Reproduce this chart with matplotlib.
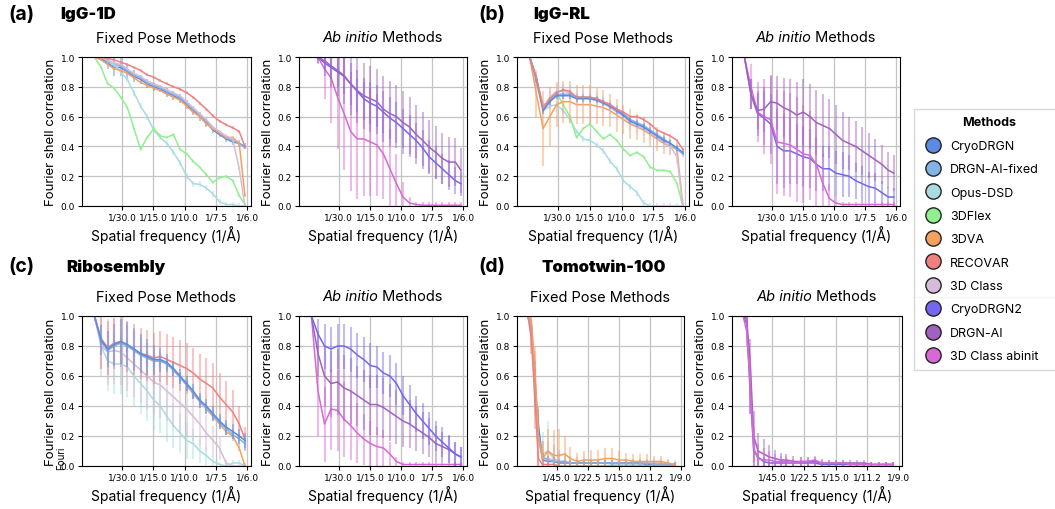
import matplotlib
matplotlib.use('Agg')
from matplotlib import pyplot as plt
from matplotlib.lines import Line2D

W, H = 1055, 510

METHODS = ['CryoDRGN', 'DRGN-AI-fixed', 'Opus-DSD', '3DFlex', '3DVA', 'RECOVAR',
           '3D Class', 'CryoDRGN2', 'DRGN-AI', '3D Class abinit']
COLOURS = ['#5b8be0', '#84b3e7', '#a8dce2', '#90f090', '#f5a05e', '#f08080',
           '#d6bcd8', '#7466ee', '#9f62bf', '#d868d4']

# spatial frequency grids (1/A)
FREQ = [0.004, 0.011, 0.018, 0.025, 0.032, 0.039, 0.046, 0.053, 0.060, 0.067, 0.074, 0.081,
        0.088, 0.095, 0.102, 0.109, 0.116, 0.123, 0.130, 0.137, 0.144, 0.151, 0.158, 0.164]
TOMO_FREQ = [0.0015, 0.004, 0.0065, 0.009, 0.012, 0.016, 0.020, 0.024, 0.028, 0.032, 0.037, 0.042,
             0.047, 0.052, 0.057, 0.062, 0.067, 0.072, 0.077, 0.082, 0.087, 0.092, 0.097, 0.102, 0.107]
RES_TICKS = [30, 15, 10, 7.5, 6]
TOMO_RES_TICKS = [45, 22.5, 15, 11.25, 9]

# (a) IgG-1D
a_fix_cryodrgn = [1.0, 0.99, 0.96, 0.93, 0.93, 0.90, 0.87, 0.85, 0.82, 0.80, 0.785, 0.76, 0.74, 0.72, 0.68, 0.64, 0.60, 0.56, 0.51, 0.48, 0.45, 0.43, 0.42, 0.40]
a_fix_cryodrgn_err = [0.0, 0.01, 0.04, 0.06, 0.06, 0.05, 0.04, 0.03, 0.03, 0.03, 0.02, 0.03, 0.03, 0.03, 0.03, 0.03, 0.03, 0.03, 0.02, 0.02, 0.02, 0.02, 0.02, 0.02]
a_fix_drgnai = [1.0, 1.0, 0.97, 0.95, 0.94, 0.91, 0.88, 0.86, 0.83, 0.81, 0.795, 0.77, 0.75, 0.73, 0.69, 0.65, 0.61, 0.57, 0.52, 0.49, 0.46, 0.44, 0.42, 0.39]
a_fix_opus = [1.0, 1.0, 0.98, 0.95, 0.90, 0.85, 0.76, 0.67, 0.60, 0.51, 0.46, 0.42, 0.36, 0.29, 0.20, 0.15, 0.145, 0.12, 0.08, 0.03, 0.01, 0.01, 0.0, 0.0]
a_fix_flex = [1.0, 0.93, 0.82, 0.79, 0.73, 0.66, 0.52, 0.38, 0.46, 0.52, 0.47, 0.46, 0.48, 0.38, 0.35, 0.30, 0.26, 0.21, 0.16, 0.19, 0.20, 0.17, 0.07, 0.01]
a_fix_3dva = [1.0, 0.98, 0.95, 0.92, 0.91, 0.89, 0.86, 0.83, 0.81, 0.79, 0.775, 0.75, 0.73, 0.71, 0.67, 0.63, 0.60, 0.55, 0.52, 0.49, 0.46, 0.46, 0.42, 0.07]
a_fix_recovar = [1.0, 1.0, 0.99, 0.98, 0.965, 0.95, 0.93, 0.91, 0.88, 0.865, 0.84, 0.82, 0.80, 0.785, 0.76, 0.73, 0.69, 0.65, 0.605, 0.57, 0.545, 0.525, 0.50, 0.40]
a_fix_3dclass = [1.0, 1.0, 0.98, 0.96, 0.95, 0.92, 0.89, 0.87, 0.84, 0.82, 0.805, 0.78, 0.76, 0.74, 0.70, 0.66, 0.62, 0.58, 0.53, 0.50, 0.47, 0.45, 0.25, 0.0]

a_ab_cryodrgn2 = [1.0, 1.0, 0.96, 0.93, 0.90, 0.87, 0.82, 0.77, 0.72, 0.69, 0.67, 0.63, 0.59, 0.56, 0.52, 0.48, 0.44, 0.39, 0.33, 0.29, 0.25, 0.21, 0.17, 0.15]
a_ab_cryodrgn2_err = [0.0, 0.02, 0.05, 0.08, 0.1, 0.12, 0.14, 0.14, 0.14, 0.14, 0.14, 0.14, 0.14, 0.14, 0.13, 0.13, 0.12, 0.12, 0.11, 0.11, 0.1, 0.1, 0.09, 0.08]
a_ab_drgnai = [1.0, 1.0, 0.975, 0.94, 0.91, 0.875, 0.82, 0.775, 0.74, 0.72, 0.70, 0.65, 0.62, 0.60, 0.56, 0.53, 0.48, 0.44, 0.395, 0.36, 0.32, 0.295, 0.295, 0.24]
a_ab_drgnai_err = [0.0, 0.04, 0.1, 0.14, 0.17, 0.19, 0.21, 0.22, 0.22, 0.22, 0.22, 0.22, 0.22, 0.21, 0.21, 0.2, 0.2, 0.19, 0.18, 0.18, 0.17, 0.17, 0.16, 0.15]
a_ab_3dclass = [1.0, 1.0, 0.92, 0.86, 0.73, 0.62, 0.50, 0.45, 0.45, 0.43, 0.41, 0.35, 0.25, 0.15, 0.06, 0.02, 0.01, 0.005, 0.005, 0.005, 0.005, 0.005, 0.005, 0.005]
a_ab_3dclass_err = [0.0, 0.05, 0.2, 0.3, 0.35, 0.38, 0.4, 0.4, 0.38, 0.36, 0.34, 0.3, 0.27, 0.2, 0.1, 0.04, 0.02, 0.02, 0.02, 0.02, 0.02, 0.02, 0.02, 0.02]

# (b) IgG-RL
b_fix_cryodrgn = [1.0, 0.85, 0.64, 0.70, 0.74, 0.74, 0.74, 0.72, 0.72, 0.72, 0.71, 0.69, 0.67, 0.64, 0.61, 0.57, 0.55, 0.53, 0.50, 0.47, 0.44, 0.42, 0.39, 0.36]
b_fix_drgnai = [1.0, 0.86, 0.65, 0.71, 0.75, 0.75, 0.75, 0.73, 0.73, 0.73, 0.72, 0.70, 0.68, 0.65, 0.62, 0.58, 0.56, 0.54, 0.51, 0.48, 0.45, 0.42, 0.38, 0.35]
b_fix_opus = [1.0, 0.82, 0.64, 0.67, 0.68, 0.64, 0.58, 0.50, 0.45, 0.44, 0.41, 0.37, 0.30, 0.25, 0.17, 0.13, 0.09, 0.02, 0.0, 0.0, 0.0, 0.0, 0.0, 0.0]
b_fix_flex = [1.0, 0.85, 0.68, 0.70, 0.76, 0.68, 0.60, 0.46, 0.52, 0.55, 0.50, 0.45, 0.48, 0.44, 0.38, 0.34, 0.36, 0.33, 0.26, 0.24, 0.24, 0.23, 0.15, 0.0]
b_fix_3dva = [1.0, 0.75, 0.52, 0.60, 0.68, 0.70, 0.70, 0.68, 0.68, 0.68, 0.67, 0.66, 0.64, 0.61, 0.58, 0.55, 0.53, 0.51, 0.48, 0.45, 0.42, 0.40, 0.38, 0.0]
b_fix_3dva_err = [0.0, 0.15, 0.25, 0.2, 0.15, 0.14, 0.14, 0.13, 0.13, 0.13, 0.12, 0.12, 0.11, 0.11, 0.1, 0.1, 0.09, 0.09, 0.08, 0.08, 0.07, 0.06, 0.05, 0.0]
b_fix_recovar = [1.0, 0.86, 0.66, 0.72, 0.76, 0.78, 0.77, 0.73, 0.73, 0.73, 0.72, 0.70, 0.68, 0.65, 0.63, 0.60, 0.60, 0.58, 0.55, 0.51, 0.49, 0.47, 0.44, 0.38]
b_fix_3dclass = [1.0, 0.86, 0.66, 0.73, 0.77, 0.77, 0.76, 0.73, 0.73, 0.72, 0.71, 0.69, 0.66, 0.63, 0.60, 0.56, 0.54, 0.52, 0.49, 0.46, 0.43, 0.40, 0.33, 0.0]

b_ab_cryodrgn2 = [1.0, 0.75, 0.62, 0.59, 0.55, 0.40, 0.37, 0.37, 0.35, 0.33, 0.32, 0.28, 0.25, 0.25, 0.22, 0.21, 0.20, 0.17, 0.15, 0.13, 0.12, 0.09, 0.06, 0.06]
b_ab_cryodrgn2_err = [0.0, 0.1, 0.15, 0.18, 0.2, 0.25, 0.25, 0.22, 0.2, 0.2, 0.2, 0.18, 0.15, 0.15, 0.15, 0.15, 0.14, 0.12, 0.12, 0.1, 0.1, 0.08, 0.07, 0.06]
b_ab_drgnai = [1.0, 0.75, 0.64, 0.65, 0.70, 0.69, 0.66, 0.64, 0.61, 0.63, 0.60, 0.56, 0.54, 0.52, 0.48, 0.44, 0.42, 0.40, 0.37, 0.34, 0.31, 0.28, 0.24, 0.22]
b_ab_drgnai_err = [0.0, 0.1, 0.12, 0.15, 0.17, 0.18, 0.2, 0.21, 0.22, 0.22, 0.22, 0.22, 0.21, 0.2, 0.2, 0.19, 0.18, 0.17, 0.16, 0.15, 0.14, 0.13, 0.12, 0.12]
b_ab_3dclass = [1.0, 0.80, 0.63, 0.60, 0.58, 0.43, 0.42, 0.41, 0.38, 0.35, 0.34, 0.28, 0.15, 0.05, 0.02, 0.01, 0.01, 0.01, 0.01, 0.01, 0.01, 0.01, 0.01, 0.01]
b_ab_3dclass_err = [0.0, 0.15, 0.2, 0.25, 0.3, 0.35, 0.35, 0.35, 0.35, 0.33, 0.3, 0.28, 0.2, 0.1, 0.05, 0.02, 0.02, 0.02, 0.02, 0.02, 0.02, 0.02, 0.02, 0.02]

# (c) Ribosembly
c_fix_cryodrgn = [1.0, 0.84, 0.78, 0.81, 0.83, 0.81, 0.78, 0.75, 0.73, 0.71, 0.71, 0.69, 0.65, 0.60, 0.55, 0.50, 0.44, 0.40, 0.35, 0.30, 0.26, 0.23, 0.20, 0.17]
c_fix_cryodrgn_err = [0.0, 0.1, 0.12, 0.14, 0.15, 0.15, 0.14, 0.13, 0.12, 0.1, 0.08, 0.06, 0.05, 0.05, 0.05, 0.05, 0.05, 0.05, 0.05, 0.05, 0.05, 0.05, 0.05, 0.05]
c_fix_drgnai = [1.0, 0.83, 0.77, 0.80, 0.82, 0.80, 0.77, 0.74, 0.72, 0.70, 0.70, 0.68, 0.64, 0.59, 0.54, 0.49, 0.43, 0.39, 0.34, 0.29, 0.25, 0.21, 0.18, 0.15]
c_fix_opus = [1.0, 0.80, 0.70, 0.68, 0.68, 0.66, 0.60, 0.55, 0.50, 0.44, 0.40, 0.33, 0.27, 0.22, 0.17, 0.15, 0.10, 0.07, 0.03, 0.01, 0.0, 0.02, 0.02, 0.0]
c_fix_opus_err = [0.0, 0.15, 0.2, 0.2, 0.2, 0.2, 0.2, 0.2, 0.2, 0.2, 0.18, 0.17, 0.15, 0.13, 0.12, 0.1, 0.08, 0.06, 0.04, 0.02, 0.02, 0.02, 0.02, 0.0]
c_fix_3dva = [1.0, 0.83, 0.78, 0.81, 0.82, 0.80, 0.77, 0.74, 0.72, 0.70, 0.70, 0.68, 0.64, 0.59, 0.54, 0.48, 0.43, 0.38, 0.33, 0.28, 0.23, 0.20, 0.12, 0.0]
c_fix_recovar = [1.0, 0.85, 0.79, 0.82, 0.83, 0.80, 0.78, 0.75, 0.74, 0.72, 0.73, 0.71, 0.69, 0.67, 0.65, 0.62, 0.58, 0.55, 0.52, 0.46, 0.41, 0.36, 0.28, 0.18]
c_fix_recovar_err = [0.0, 0.2, 0.18, 0.17, 0.17, 0.17, 0.17, 0.17, 0.17, 0.17, 0.17, 0.17, 0.17, 0.17, 0.17, 0.17, 0.17, 0.17, 0.17, 0.16, 0.16, 0.15, 0.12, 0.08]
c_fix_3dclass = [1.0, 0.80, 0.76, 0.77, 0.76, 0.72, 0.68, 0.64, 0.60, 0.56, 0.54, 0.50, 0.46, 0.42, 0.38, 0.33, 0.28, 0.22, 0.17, 0.12, 0.02, 0.0, 0.0, 0.0]
c_fix_3dclass_err = [0.0, 0.2, 0.22, 0.22, 0.22, 0.22, 0.22, 0.22, 0.22, 0.22, 0.22, 0.2, 0.2, 0.2, 0.18, 0.16, 0.14, 0.12, 0.1, 0.08, 0.02, 0.0, 0.0, 0.0]

c_ab_cryodrgn2 = [1.0, 0.88, 0.80, 0.78, 0.80, 0.80, 0.78, 0.74, 0.71, 0.67, 0.66, 0.62, 0.60, 0.55, 0.47, 0.41, 0.35, 0.30, 0.25, 0.20, 0.16, 0.12, 0.08, 0.06]
c_ab_cryodrgn2_err = [0.0, 0.1, 0.15, 0.15, 0.15, 0.15, 0.15, 0.15, 0.15, 0.15, 0.14, 0.14, 0.14, 0.14, 0.13, 0.13, 0.12, 0.12, 0.11, 0.1, 0.1, 0.09, 0.08, 0.07]
c_ab_drgnai = [1.0, 0.75, 0.60, 0.55, 0.56, 0.52, 0.50, 0.47, 0.44, 0.41, 0.41, 0.39, 0.36, 0.33, 0.30, 0.28, 0.25, 0.22, 0.19, 0.15, 0.13, 0.11, 0.08, 0.06]
c_ab_drgnai_err = [0.0, 0.15, 0.2, 0.22, 0.22, 0.22, 0.22, 0.2, 0.2, 0.2, 0.2, 0.2, 0.19, 0.18, 0.17, 0.16, 0.15, 0.14, 0.13, 0.12, 0.1, 0.09, 0.08, 0.07]
c_ab_3dclass = [1.0, 0.50, 0.28, 0.38, 0.37, 0.31, 0.27, 0.22, 0.18, 0.15, 0.13, 0.12, 0.08, 0.03, 0.01, 0.01, 0.01, 0.01, 0.01, 0.01, 0.01, 0.01, 0.01, 0.01]
c_ab_3dclass_err = [0.0, 0.3, 0.25, 0.27, 0.27, 0.25, 0.23, 0.2, 0.17, 0.15, 0.13, 0.12, 0.08, 0.03, 0.02, 0.02, 0.02, 0.02, 0.02, 0.02, 0.02, 0.02, 0.02, 0.02]

# (d) Tomotwin-100
d_fix_cryodrgn = [1.0, 0.92, 0.55, 0.28, 0.04, 0.03, 0.03, 0.02, 0.02, 0.02, 0.02, 0.02, 0.02, 0.02, 0.02, 0.02, 0.02, 0.02, 0.02, 0.02, 0.01, 0.01, 0.01, 0.01, 0.01]
d_fix_cryodrgn_err = [0.0, 0.05, 0.15, 0.1, 0.05, 0.04, 0.03, 0.02, 0.02, 0.02, 0.02, 0.02, 0.02, 0.02, 0.02, 0.02, 0.02, 0.02, 0.02, 0.02, 0.02, 0.02, 0.02, 0.02, 0.02]
d_fix_drgnai = [1.0, 0.93, 0.55, 0.20, 0.06, 0.04, 0.03, 0.03, 0.03, 0.02, 0.02, 0.02, 0.02, 0.02, 0.02, 0.02, 0.02, 0.02, 0.02, 0.02, 0.02, 0.01, 0.01, 0.01, 0.01]
d_fix_opus = [1.0, 0.95, 0.62, 0.25, 0.08, 0.10, 0.05, 0.03, 0.03, 0.02, 0.02, 0.02, 0.02, 0.02, 0.02, 0.01, 0.01, 0.01, 0.01, 0.01, 0.01, 0.01, 0.01, 0.01, 0.01]
d_fix_opus_err = [0.0, 0.05, 0.15, 0.15, 0.15, 0.2, 0.1, 0.06, 0.05, 0.04, 0.03, 0.03, 0.02, 0.02, 0.02, 0.02, 0.02, 0.02, 0.02, 0.02, 0.02, 0.02, 0.02, 0.02, 0.02]
d_fix_3dva = [1.0, 0.97, 0.65, 0.20, 0.05, 0.10, 0.07, 0.07, 0.08, 0.05, 0.03, 0.04, 0.04, 0.04, 0.05, 0.05, 0.04, 0.04, 0.03, 0.03, 0.03, 0.03, 0.03, 0.02, 0.01]
d_fix_3dva_err = [0.0, 0.05, 0.15, 0.2, 0.12, 0.15, 0.17, 0.18, 0.12, 0.08, 0.06, 0.06, 0.07, 0.07, 0.07, 0.07, 0.06, 0.05, 0.05, 0.05, 0.05, 0.04, 0.04, 0.03, 0.02]
d_fix_recovar = [1.0, 0.85, 0.45, 0.05, 0.01, 0.01, 0.01, 0.0, 0.0, 0.0, 0.0, 0.0, 0.0, 0.0, 0.0, 0.0, 0.0, 0.0, 0.0, 0.0, 0.0, 0.0, 0.0, 0.0, 0.0]
d_fix_recovar_err = [0.0, 0.1, 0.2, 0.05, 0.01, 0.01, 0.01, 0.01, 0.01, 0.01, 0.01, 0.01, 0.01, 0.01, 0.01, 0.01, 0.01, 0.01, 0.01, 0.01, 0.01, 0.01, 0.01, 0.01, 0.01]
d_fix_3dclass = [1.0, 0.90, 0.55, 0.18, 0.05, 0.05, 0.04, 0.03, 0.03, 0.02, 0.02, 0.02, 0.02, 0.02, 0.02, 0.02, 0.02, 0.02, 0.02, 0.02, 0.02, 0.02, 0.02, 0.01, 0.01]
d_fix_3dclass_err = [0.0, 0.1, 0.2, 0.2, 0.12, 0.12, 0.1, 0.08, 0.06, 0.05, 0.04, 0.03, 0.03, 0.03, 0.03, 0.03, 0.03, 0.03, 0.03, 0.03, 0.03, 0.03, 0.03, 0.03, 0.03]

d_ab_cryodrgn2 = [1.0, 0.95, 0.50, 0.10, 0.06, 0.03, 0.02, 0.02, 0.02, 0.02, 0.02, 0.02, 0.02, 0.02, 0.01, 0.01, 0.01, 0.01, 0.01, 0.01, 0.01, 0.01, 0.01, 0.01, 0.01]
d_ab_cryodrgn2_err = [0.0, 0.05, 0.15, 0.1, 0.05, 0.03, 0.02, 0.02, 0.02, 0.02, 0.02, 0.02, 0.02, 0.02, 0.02, 0.02, 0.02, 0.02, 0.02, 0.02, 0.02, 0.02, 0.02, 0.02, 0.02]
d_ab_drgnai = [1.0, 0.98, 0.70, 0.20, 0.10, 0.08, 0.06, 0.05, 0.04, 0.04, 0.03, 0.03, 0.03, 0.03, 0.02, 0.02, 0.02, 0.02, 0.02, 0.02, 0.02, 0.01, 0.01, 0.01, 0.01]
d_ab_drgnai_err = [0.0, 0.05, 0.15, 0.17, 0.12, 0.1, 0.08, 0.06, 0.05, 0.04, 0.04, 0.03, 0.03, 0.03, 0.03, 0.02, 0.02, 0.02, 0.02, 0.02, 0.02, 0.02, 0.02, 0.02, 0.02]
d_ab_3dclass = [1.0, 0.90, 0.55, 0.12, 0.05, 0.04, 0.04, 0.03, 0.03, 0.03, 0.02, 0.03, 0.03, 0.04, 0.02, 0.02, 0.02, 0.02, 0.01, 0.01, 0.01, 0.01, 0.01, 0.01, 0.01]
d_ab_3dclass_err = [0.0, 0.1, 0.2, 0.15, 0.1, 0.08, 0.06, 0.05, 0.04, 0.04, 0.03, 0.03, 0.03, 0.03, 0.02, 0.02, 0.02, 0.02, 0.02, 0.02, 0.02, 0.02, 0.02, 0.02, 0.02]

FONT = 'Inter'


def px_axes(fig, left, top, right, bottom):
    return fig.add_axes([left / W, 1 - bottom / H, (right - left) / W, (bottom - top) / H])


def draw_curve(ax, freq, fsc, err, method):
    colour = COLOURS[METHODS.index(method)]
    ax.errorbar(freq, fsc, yerr=err, fmt='none', ecolor=colour, elinewidth=1.5, alpha=0.45)
    ax.plot(freq, fsc, color=colour, lw=1.1)


def style_axes(ax, res_ticks, xlim, fixed):
    ax.set_xlim(*xlim)
    ax.set_ylim(0, 1)
    ax.set_xticks([1 / r for r in res_ticks])
    ax.set_xticklabels([f"1/{r:.1f}" for r in res_ticks])
    ax.set_yticks([0, 0.2, 0.4, 0.6, 0.8, 1.0])
    ax.tick_params(labelsize=6.5, length=3, width=0.8, pad=2)
    ax.grid(color='#c4c4c4', lw=0.9)
    ax.set_axisbelow(True)
    ax.set_ylabel('Fourier shell correlation', fontfamily=FONT, fontsize=9.5, labelpad=3)
    ax.set_xlabel('Spatial frequency (1/Å)', fontfamily=FONT, fontsize=10, labelpad=2)
    if fixed:
        ax.set_title('Fixed Pose Methods', fontfamily=FONT, fontsize=10.5, pad=11)
    else:
        t1 = ax.annotate('Ab initio', xy=(0.47, 1), xycoords='axes fraction', xytext=(0, 9),
                         textcoords='offset points', ha='right', va='bottom',
                         fontfamily=FONT, fontsize=10.5, style='italic')
        ax.annotate(' Methods', xy=(1, 0), xycoords=t1, ha='left', va='bottom',
                    fontfamily=FONT, fontsize=10.5)


def main():
    fig = plt.figure(figsize=(W / 100, H / 100), dpi=100)
    igg_lim = (-0.0093, 0.1705)
    tomo_lim = (-0.0063, 0.1135)

    panels = [
        ((82, 58, 251, 207), FREQ, igg_lim, RES_TICKS, True, [
            ('CryoDRGN', a_fix_cryodrgn, a_fix_cryodrgn_err),
            ('DRGN-AI-fixed', a_fix_drgnai, 0.01),
            ('Opus-DSD', a_fix_opus, 0.02),
            ('3DFlex', a_fix_flex, 0.01),
            ('3DVA', a_fix_3dva, 0.01),
            ('3D Class', a_fix_3dclass, 0.01),
            ('RECOVAR', a_fix_recovar, 0.01)]),
        ((299, 58, 467, 207), FREQ, igg_lim, RES_TICKS, False, [
            ('3D Class abinit', a_ab_3dclass, a_ab_3dclass_err),
            ('CryoDRGN2', a_ab_cryodrgn2, a_ab_cryodrgn2_err),
            ('DRGN-AI', a_ab_drgnai, a_ab_drgnai_err)]),
        ((517, 58, 689, 207), FREQ, igg_lim, RES_TICKS, True, [
            ('Opus-DSD', b_fix_opus, 0.02),
            ('3DFlex', b_fix_flex, 0.01),
            ('3DVA', b_fix_3dva, b_fix_3dva_err),
            ('3D Class', b_fix_3dclass, 0.05),
            ('DRGN-AI-fixed', b_fix_drgnai, 0.02),
            ('CryoDRGN', b_fix_cryodrgn, 0.02),
            ('RECOVAR', b_fix_recovar, 0.01)]),
        ((732, 58, 900, 207), FREQ, igg_lim, RES_TICKS, False, [
            ('CryoDRGN2', b_ab_cryodrgn2, b_ab_cryodrgn2_err),
            ('3D Class abinit', b_ab_3dclass, b_ab_3dclass_err),
            ('DRGN-AI', b_ab_drgnai, b_ab_drgnai_err)]),
        ((82, 317, 251, 467), FREQ, igg_lim, RES_TICKS, True, [
            ('Opus-DSD', c_fix_opus, c_fix_opus_err),
            ('3D Class', c_fix_3dclass, c_fix_3dclass_err),
            ('RECOVAR', c_fix_recovar, c_fix_recovar_err),
            ('3DVA', c_fix_3dva, 0.02),
            ('DRGN-AI-fixed', c_fix_drgnai, 0.04),
            ('CryoDRGN', c_fix_cryodrgn, c_fix_cryodrgn_err)]),
        ((299, 317, 467, 467), FREQ, igg_lim, RES_TICKS, False, [
            ('3D Class abinit', c_ab_3dclass, c_ab_3dclass_err),
            ('DRGN-AI', c_ab_drgnai, c_ab_drgnai_err),
            ('CryoDRGN2', c_ab_cryodrgn2, c_ab_cryodrgn2_err)]),
        ((517, 317, 684, 467), TOMO_FREQ, tomo_lim, TOMO_RES_TICKS, True, [
            ('Opus-DSD', d_fix_opus, d_fix_opus_err),
            ('3D Class', d_fix_3dclass, d_fix_3dclass_err),
            ('CryoDRGN', d_fix_cryodrgn, d_fix_cryodrgn_err),
            ('DRGN-AI-fixed', d_fix_drgnai, 0.02),
            ('3DVA', d_fix_3dva, d_fix_3dva_err),
            ('RECOVAR', d_fix_recovar, d_fix_recovar_err)]),
        ((732, 317, 902, 467), TOMO_FREQ, tomo_lim, TOMO_RES_TICKS, False, [
            ('CryoDRGN2', d_ab_cryodrgn2, d_ab_cryodrgn2_err),
            ('DRGN-AI', d_ab_drgnai, d_ab_drgnai_err),
            ('3D Class abinit', d_ab_3dclass, d_ab_3dclass_err)]),
    ]

    for rect, freq, xlim, ticks, fixed, curves in panels:
        ax = px_axes(fig, *rect)
        for method, fsc, err in curves:
            draw_curve(ax, freq, fsc, err, method)
        style_axes(ax, ticks, xlim, fixed)

    # panel headers
    for x1, x2, y, letter, name in [(8, 60, 15, '(a)', 'IgG-1D'), (478, 533, 15, '(b)', 'IgG-RL'),
                                    (8, 66, 267, '(c)', 'Ribosembly'), (478, 541, 267, '(d)', 'Tomotwin-100')]:
        fig.text(x1 / W, 1 - y / H, letter, fontfamily=FONT, fontweight='bold', fontsize=14, va='center')
        fig.text(x2 / W, 1 - y / H, name, fontfamily=FONT, fontweight='black', fontsize=12, va='center')

    # stray duplicated label in panel (c)
    fig.text(61 / W, 1 - 458 / H, 'Fouri', rotation=90, fontfamily=FONT, fontsize=7, ha='center', va='center')

    handles = [Line2D([], [], ls='none', marker='o', markersize=11, markerfacecolor=c,
                      markeredgecolor='#222222', markeredgewidth=1) for c in COLOURS]
    leg_top = 1 - 110 / H
    fig.legend(handles, METHODS, loc='upper left',
               bbox_to_anchor=(914 / W, leg_top - 0.6, 150 / W, 0.6), mode='expand',
               borderaxespad=0,
               title='Methods', title_fontproperties={'family': FONT, 'weight': 'bold', 'size': 9},
               prop={'family': FONT, 'size': 9}, frameon=True, fancybox=False, edgecolor='#d0d0d0',
               labelspacing=0.91, handletextpad=0.5, borderpad=0.6, handlelength=1.8)
    fig.add_artist(Line2D([914 / W, 1], [1 - 298 / H] * 2, color='#d0d0d0', lw=1))

    fig.savefig('out.png', dpi=100)


main()
